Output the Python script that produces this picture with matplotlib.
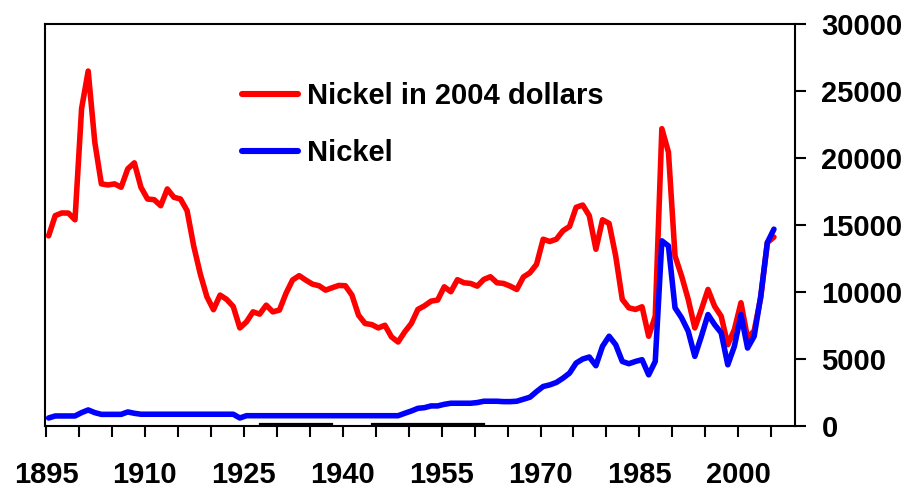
import numpy as np
import matplotlib
matplotlib.use("Agg")
import matplotlib.pyplot as plt

plt.rcParams["font.family"] = ["Liberation Sans", "DejaVu Sans"]
plt.rcParams["font.weight"] = "bold"

# 每年数据 1895-2005 (US$/t)
years = np.arange(1895, 2006)

nickel_2004 = [
    14190, 15700, 15900, 15890, 15390, 23690, 26490, 21190, 18070, 17990,  # 1895-1904
    18070, 17820, 19190, 19640, 17820, 16940, 16890, 16440, 17690, 17070,  # 1905-1914
    16940, 16070, 13440, 11350, 9650, 8680, 9770, 9450, 8920, 7320,        # 1915-1924
    7770, 8520, 8350, 9020, 8520, 8650, 9900, 10900, 11220, 10890,         # 1925-1934
    10590, 10470, 10140, 10320, 10490, 10470, 9770, 8270, 7650, 7570,      # 1935-1944
    7320, 7520, 6650, 6270, 7020, 7650, 8700, 8970, 9320, 9400,            # 1945-1954
    10390, 10020, 10920, 10690, 10640, 10440, 10940, 11140, 10690, 10640,  # 1955-1964
    10440, 10190, 11120, 11440, 12070, 13940, 13770, 13940, 14570, 14890,  # 1965-1974
    16320, 16490, 15690, 13190, 15390, 15120, 12690, 9450, 8820, 8700,     # 1975-1984
    8900, 6700, 8200, 22190, 20440, 12690, 11190, 9450, 7320, 8700,        # 1985-1994
    10190, 8940, 8190, 6070, 7200, 9200, 6570, 7100, 9600, 13690,          # 1995-2004
    14100,                                                                 # 2005
]

nickel = [
    600, 750, 750, 750, 750, 1000, 1200, 1000, 870, 870,                   # 1895-1904
    870, 870, 1050, 950, 880, 880, 880, 880, 880, 880,                     # 1905-1914
    880, 880, 880, 880, 880, 880, 880, 880, 880, 600,                      # 1915-1924
    770, 770, 770, 770, 770, 770, 770, 770, 770, 770,                      # 1925-1934
    770, 770, 770, 770, 770, 770, 770, 770, 770, 770,                      # 1935-1944
    770, 770, 770, 770, 950, 1120, 1320, 1370, 1500, 1500,                 # 1945-1954
    1620, 1700, 1700, 1700, 1700, 1750, 1850, 1850, 1850, 1820,            # 1955-1964
    1820, 1850, 2000, 2150, 2570, 2950, 3070, 3250, 3570, 3950,            # 1965-1974
    4700, 5000, 5150, 4500, 5950, 6700, 6070, 4820, 4650, 4820,            # 1975-1984
    4950, 3820, 4820, 13820, 13440, 8820, 8070, 7070, 5200, 6700,          # 1985-1994
    8320, 7570, 6950, 4570, 5950, 8320, 5820, 6700, 9700, 13690,           # 1995-2004
    14690,                                                                 # 2005
]

# 底部两段细黑线 (原图残留的第三个序列, 贴近零)
stub_years = [[1927, 1938], [1944, 1961]]
stub_value = 170

tick_years = np.arange(1895, 2006, 5)
label_years = [1895, 1910, 1925, 1940, 1955, 1970, 1985, 2000]
yticks = [0, 5000, 10000, 15000, 20000, 25000, 30000]

# 类目轴: 数据点相对刻度偏移约 0.4 年
OFFSET = 0.4

fig = plt.figure(figsize=(9.22, 4.88), dpi=100)
ax = fig.add_axes([0.0488, 0.127, 0.8135, 0.8238])

ax.plot(years, nickel_2004, color="#ff0000", lw=4.0, solid_joinstyle="round",
        solid_capstyle="round", label="Nickel in 2004 dollars", zorder=3)
ax.plot(years, nickel, color="#0000ff", lw=4.0, solid_joinstyle="round",
        solid_capstyle="round", label="Nickel", zorder=4)
for a, b in stub_years:
    ax.plot([a, b], [stub_value, stub_value], color="black", lw=1.6, zorder=2)

ax.set_xlim(1895 - OFFSET - 0.15, 2008.2)
ax.set_ylim(0, 30000)

ax.set_xticks(tick_years - OFFSET)
ax.set_xticklabels([str(y) if y in label_years else "" for y in tick_years])
ax.set_yticks(yticks)

ax.yaxis.tick_right()
ax.tick_params(axis="both", direction="out", length=8, width=1.5, labelsize=21)
ax.tick_params(axis="x", pad=17)
ax.tick_params(axis="y", pad=11)
for lab in ax.get_xticklabels() + ax.get_yticklabels():
    lab.set_fontweight("bold")

for s in ax.spines.values():
    s.set_linewidth(1.5)

leg = ax.legend(loc="upper left", bbox_to_anchor=(0.262, 0.855), frameon=False,
                fontsize=21, handlelength=1.95, handletextpad=0.3, labelspacing=1.0,
                borderaxespad=0, borderpad=0)
for t in leg.get_texts():
    t.set_fontweight("bold")
for h in leg.get_lines():
    h.set_linewidth(4.4)

fig.savefig("out.png", dpi=100)
